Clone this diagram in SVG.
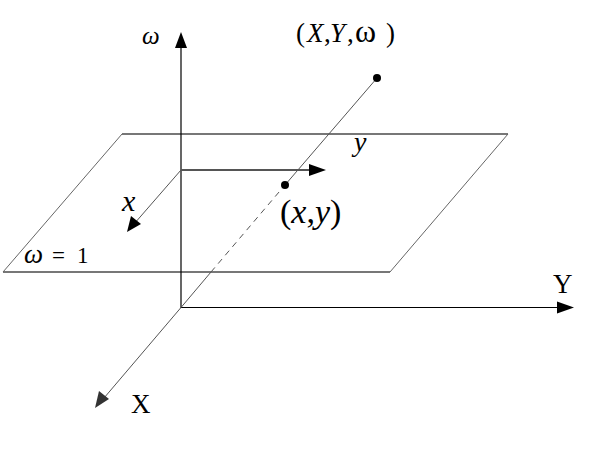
<svg xmlns="http://www.w3.org/2000/svg" width="600" height="449" viewBox="0 0 600 449">
<style>
.t{font-family:"Liberation Serif","Times New Roman",serif;fill:#000}
.i{font-style:italic}
.ax{stroke:#000;stroke-width:1.2;fill:none}
.pl{stroke:#666;stroke-width:1;fill:none}
.ple{stroke:#777;stroke-width:2;fill:none}
.in{stroke:#555;stroke-width:1.8;fill:none}
.ln{stroke:#555;stroke-width:1;fill:none}
.hd{fill:#000}
</style>
<rect width="600" height="449" fill="#fff"/>
<g id="plane">
<line class="ple" x1="122" y1="134" x2="508" y2="134"/>
<line class="ple" x1="3" y1="272" x2="390" y2="272"/>
<line class="pl" x1="122" y1="134" x2="3" y2="272"/>
<line class="pl" x1="508" y1="134" x2="390" y2="272"/>
<text class="t" y="263" font-size="23"><tspan class="i" x="24" font-size="27">ω</tspan><tspan x="52">=</tspan><tspan x="77">1</tspan></text>
</g>
<g id="connectors">
<line class="ax" x1="181" y1="308" x2="181" y2="46"/>
<polygon class="hd" points="181,32 175,48 187,48"/>
<line class="ax" x1="181" y1="307.5" x2="560" y2="307.5"/>
<polygon class="hd" points="574,307.5 557,301.5 557,313.5"/>
<line class="ln" x1="181" y1="307.5" x2="104" y2="398"/>
<polygon fill="#333" points="95,408 99,391 109,399"/>
<line class="ln" x1="181" y1="307.5" x2="211" y2="272"/>
<line class="ln" x1="211" y1="272" x2="285" y2="185" stroke-dasharray="6,5"/>
<line class="ln" x1="285" y1="185" x2="377" y2="78"/>
<line class="in" x1="181" y1="170" x2="312" y2="170"/>
<polygon class="hd" points="326,170 309,164 309,176"/>
<line class="ln" x1="181" y1="170" x2="134" y2="224"/>
<polygon class="hd" points="127,232 131,216 141,224"/>
</g>
<g id="axis-w"><text class="t i" x="142" y="44" font-size="25">ω</text></g>
<g id="axis-Y"><text class="t" x="553" y="293" font-size="27">Y</text></g>
<g id="axis-X"><text class="t" x="131" y="413" font-size="27">X</text></g>
<g id="label-x"><text class="t i" x="122" y="211" font-size="30">x</text></g>
<g id="label-y"><text class="t i" x="354" y="151" font-size="28">y</text></g>
<g id="point-xy">
<circle cx="285" cy="185" r="4" fill="#000"/>
<text class="t" x="280" y="223" font-size="34">(<tspan class="i">x</tspan>,<tspan class="i">y</tspan>)</text>
</g>
<g id="point-XYW">
<circle cx="377" cy="78" r="4" fill="#000"/>
<text class="t" y="42" font-size="27"><tspan x="296">(</tspan><tspan class="i" x="307">X</tspan><tspan x="324">,</tspan><tspan class="i" x="330">Y</tspan><tspan x="347">,</tspan><tspan x="355" font-size="32">ω</tspan><tspan x="386">)</tspan></text>
</g>
</svg>
